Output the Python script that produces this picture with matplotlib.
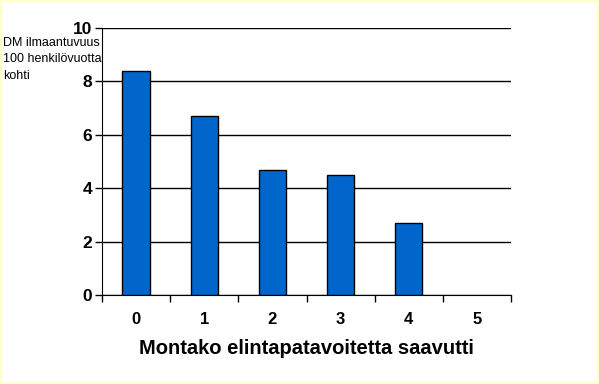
import matplotlib
matplotlib.use('Agg')
import matplotlib.pyplot as plt
from matplotlib.patches import Rectangle

categories = ['0', '1', '2', '3', '4', '5']
values = [8.4, 6.7, 4.7, 4.5, 2.7, 0]
yticks = [0, 2, 4, 6, 8, 10]

plt.rcParams['font.family'] = ['Liberation Sans', 'DejaVu Sans']

fig = plt.figure(figsize=(5.99, 3.84), dpi=100)
fig.patch.set_facecolor('white')
fig.patches.append(Rectangle((0, 0), 1, 1, transform=fig.transFigure,
                             fill=False, edgecolor='#ffffcc', linewidth=3))

ax = fig.add_axes([102 / 599, 1 - 295 / 384, 409 / 599, 267 / 384])
pos = list(range(len(categories)))
ax.bar(pos, values, width=0.4, color='#0066cc', edgecolor='black',
       linewidth=[1 if v > 0 else 0 for v in values], zorder=3)

ax.set_xlim(-0.5, len(categories) - 0.5)
ax.set_ylim(0, 10)
ax.set_yticks(yticks)
ax.set_yticklabels([str(t) for t in yticks], fontsize=12.5, fontweight='bold')
ax.yaxis.grid(True, color='black', linewidth=1, zorder=0)
ax.tick_params(axis='y', length=5, width=1, pad=2)

ax.set_xticks([p - 0.5 for p in pos] + [len(categories) - 0.5])
ax.set_xticklabels([])
ax.set_xticks(pos, minor=True)
ax.set_xticklabels(categories, minor=True, fontsize=12, fontweight='bold')
ax.tick_params(axis='x', which='major', length=5, width=1)
ax.tick_params(axis='x', which='minor', length=0, pad=12)

for s in ['top', 'right']:
    ax.spines[s].set_visible(False)

ax.set_xlabel('Montako elintapatavoitetta saavutti', fontsize=14.5, fontweight='bold', labelpad=9)

fig.text(3 / 599, 1 - 37 / 384, 'DM ilmaantuvuus\n100 henkilövuotta\nkohti',
         fontsize=9, va='top', ha='left', linespacing=1.5)

fig.savefig('out.png', dpi=100)
